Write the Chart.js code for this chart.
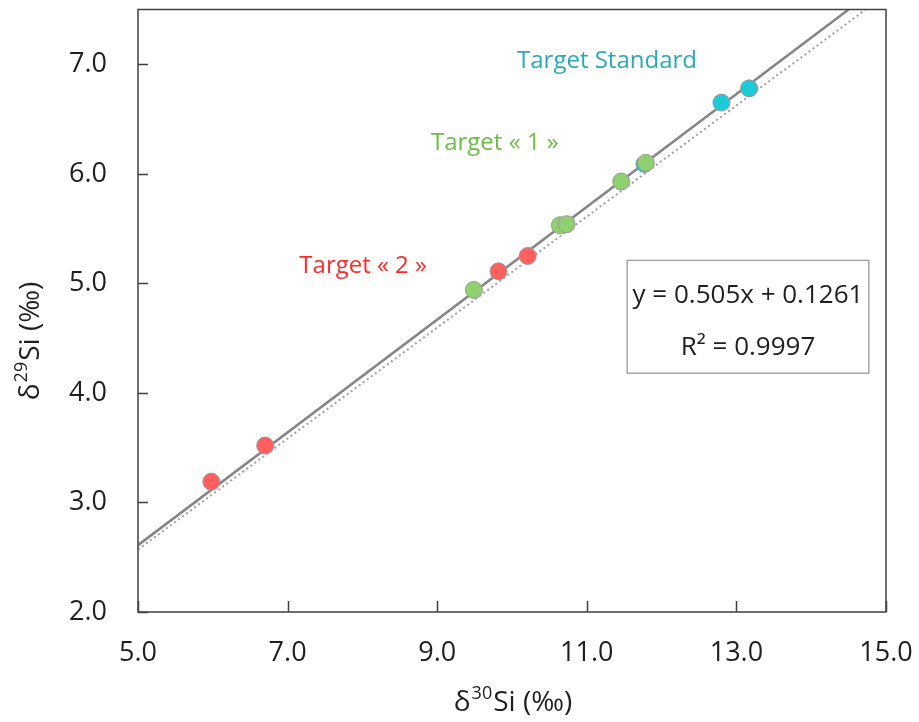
<!DOCTYPE html>
<html>
<head>
<meta charset="utf-8">
<script src="https://cdn.jsdelivr.net/npm/chart.js@4/dist/chart.umd.min.js"></script>
<style>
    html, body { margin: 0; padding: 0; background: #ffffff; }
    #wrap { width: 919px; height: 722px; }
</style>
</head>
<body>
<div id="wrap"><canvas id="siChart" width="919" height="722"></canvas></div>
<script>
// values
var standardX = [11.77, 12.80, 13.17];
var standardY = [6.09, 6.65, 6.78];
var target1X = [9.49, 10.64, 10.73, 11.46, 11.79];
var target1Y = [4.94, 5.53, 5.54, 5.93, 6.10];
var target2X = [5.98, 6.70, 9.82, 10.21];
var target2Y = [3.19, 3.52, 5.11, 5.25];
var fitLineX = [5.0, 14.5];
var fitLineY = [2.61, 7.5];
var refLineX = [5.0, 14.73];
var refLineY = [2.57, 7.5];
var xTicks = [5, 7, 9, 11, 13, 15];
var yTicks = [2, 3, 4, 5, 6, 7];

var textColor = '#1f1f1f';
var tickFont = '"Open Sans", sans-serif';

function pairs(xs, ys) {
    return xs.map(function (x, i) { return { x: x, y: ys[i] }; });
}

var frameAndLabels = {
    id: 'frameAndLabels',
    afterDraw: function (chart) {
        var ctx = chart.ctx;
        var area = chart.chartArea;
        var xs = chart.scales.x;
        var ys = chart.scales.y;
        ctx.save();

        // frame
        ctx.strokeStyle = '#404040';
        ctx.lineWidth = 1.5;
        ctx.strokeRect(area.left, area.top, area.right - area.left, area.bottom - area.top);

        // inward tick marks
        ctx.beginPath();
        xTicks.forEach(function (v) {
            var px = Math.round(xs.getPixelForValue(v)) + 0.5;
            ctx.moveTo(px, area.bottom);
            ctx.lineTo(px, area.bottom - 11);
        });
        yTicks.forEach(function (v) {
            var py = Math.round(ys.getPixelForValue(v)) + 0.5;
            ctx.moveTo(area.left, py);
            ctx.lineTo(area.left + 10, py);
        });
        ctx.stroke();

        // group labels
        ctx.textAlign = 'center';
        ctx.textBaseline = 'alphabetic';
        ctx.font = '24px ' + tickFont;
        ctx.fillStyle = '#2aaab5';
        ctx.fillText('Target Standard', xs.getPixelForValue(11.27), 68);
        ctx.fillStyle = '#6cbd45';
        ctx.fillText('Target « 1 »', xs.getPixelForValue(9.77), 150);
        ctx.fillStyle = '#ff2a2a';
        ctx.fillText('Target « 2 »', xs.getPixelForValue(8.01), 273);

        // equation box
        var bx1 = xs.getPixelForValue(11.54), bx2 = xs.getPixelForValue(14.77);
        var by1 = ys.getPixelForValue(5.21), by2 = ys.getPixelForValue(4.18);
        ctx.strokeStyle = '#a6a6a6';
        ctx.lineWidth = 1.5;
        ctx.strokeRect(bx1, by1, bx2 - bx1, by2 - by1);
        ctx.fillStyle = textColor;
        ctx.font = '26px ' + tickFont;
        ctx.fillText('y = 0.505x + 0.1261', (bx1 + bx2) / 2, 303);
        ctx.fillText('R² = 0.9997', (bx1 + bx2) / 2, 355);

        // axis titles
        drawTitle(ctx, '30', (area.left + area.right) / 2, 711, 0);
        drawTitle(ctx, '29', 39, 342, -Math.PI / 2);
        ctx.restore();
    }
};

function drawTitle(ctx, sup, cx, baseY, rot) {
    var big = '28px ' + tickFont;
    var small = '18px ' + tickFont;
    ctx.font = big;
    var w1 = ctx.measureText('δ').width;
    var w3 = ctx.measureText('Si (‰)').width;
    ctx.font = small;
    var w2 = ctx.measureText(sup).width;
    var total = w1 + w2 + w3;
    ctx.save();
    ctx.translate(cx, baseY);
    ctx.rotate(rot);
    ctx.textAlign = 'left';
    ctx.textBaseline = 'alphabetic';
    ctx.fillStyle = textColor;
    var x = -total / 2;
    ctx.font = big;
    ctx.fillText('δ', x, 0);
    ctx.font = small;
    ctx.fillText(sup, x + w1 + 1, -12);
    ctx.font = big;
    ctx.fillText('Si (‰)', x + w1 + w2 + 2, 0);
    ctx.restore();
}

function noPadding(scale) {
    scale.paddingTop = 0;
    scale.paddingBottom = 0;
    scale.paddingLeft = 0;
    scale.paddingRight = 0;
}

new Chart(document.getElementById('siChart'), {
    type: 'scatter',
    data: {
        datasets: [{
            label: 'Fit',
            data: pairs(fitLineX, fitLineY),
            showLine: true,
            borderColor: '#858585',
            borderWidth: 2.5,
            pointRadius: 0,
            order: 4
        }, {
            label: 'Reference',
            data: pairs(refLineX, refLineY),
            showLine: true,
            borderColor: '#a0a0a0',
            borderWidth: 2,
            borderDash: [2, 3],
            pointRadius: 0,
            order: 5
        }, {
            label: 'Target Standard',
            data: pairs(standardX, standardY),
            backgroundColor: '#1ccad8',
            borderColor: '#9a9a9a',
            borderWidth: 1,
            pointRadius: 8.5,
            order: 2
        }, {
            label: 'Target 1',
            data: pairs(target1X, target1Y),
            backgroundColor: '#8fd16f',
            borderColor: '#9a9a9a',
            borderWidth: 1,
            pointRadius: 8.5,
            order: 1
        }, {
            label: 'Target 2',
            data: pairs(target2X, target2Y),
            backgroundColor: '#ff5f5f',
            borderColor: '#9a9a9a',
            borderWidth: 1,
            pointRadius: 8.5,
            order: 1
        }]
    },
    options: {
        responsive: false,
        animation: false,
        layout: { padding: { top: 7, right: 33, left: 0, bottom: 0 } },
        plugins: {
            legend: { display: false },
            tooltip: { enabled: false }
        },
        scales: {
            x: {
                type: 'linear',
                min: 5,
                max: 15,
                border: { display: false },
                grid: { display: false, drawTicks: false },
                afterBuildTicks: function (scale) {
                    scale.ticks = xTicks.map(function (v) { return { value: v }; });
                },
                afterFit: function (scale) { scale.height = 110; noPadding(scale); },
                ticks: {
                    padding: 25,
                    color: textColor,
                    font: { family: tickFont, size: 27 },
                    maxRotation: 0,
                    callback: function (v) { return v.toFixed(1); }
                }
            },
            y: {
                type: 'linear',
                min: 2,
                max: 7.5,
                border: { display: false },
                grid: { display: false, drawTicks: false },
                afterBuildTicks: function (scale) {
                    scale.ticks = yTicks.map(function (v) { return { value: v }; });
                },
                afterFit: function (scale) { scale.width = 138; noPadding(scale); },
                ticks: {
                    padding: 31,
                    color: textColor,
                    font: { family: tickFont, size: 27 },
                    callback: function (v) { return v.toFixed(1); }
                }
            }
        }
    },
    plugins: [frameAndLabels]
});
</script>
</body>
</html>
